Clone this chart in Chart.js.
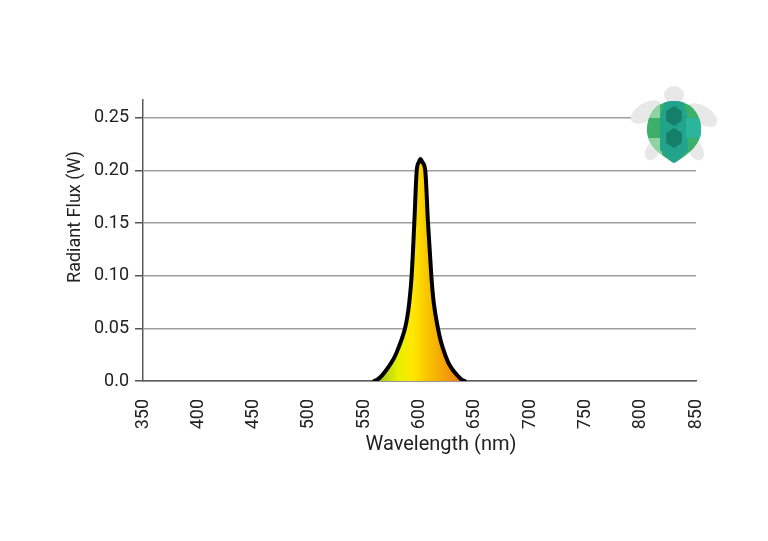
<!DOCTYPE html>
<html>
<head>
<meta charset="utf-8">
<script src="https://cdn.jsdelivr.net/npm/chart.js@4/dist/chart.umd.min.js"></script>
<style>
  html, body { margin: 0; padding: 0; background: #fff; }
  #wrap { width: 768px; height: 541px; }
</style>
</head>
<body>
<div id="wrap"><canvas id="chart"></canvas></div>
<script>
// spectrum (nm, W)
var wavelengths = [559, 562, 565, 569, 574.9, 578, 580.8, 584, 586.9, 589, 590.8, 592.9, 595.3, 597.5, 599.4, 600.9,
                   602.5, 605.2, 607.7, 610.7, 612.8, 616.7, 619, 621.2, 625.8, 628.5, 631.2, 634.5, 637.8, 641];
var flux = [0.000, 0.0015, 0.004, 0.009, 0.018, 0.024, 0.031, 0.040, 0.050, 0.061, 0.075, 0.100, 0.150, 0.200, 0.208, 0.211,
            0.208, 0.200, 0.150, 0.100, 0.075, 0.050, 0.039, 0.031, 0.018, 0.013, 0.009, 0.005, 0.0015, 0.000];
var yTicks = [0, 0.05, 0.10, 0.15, 0.20, 0.25];
var xTicks = [350, 400, 450, 500, 550, 600, 650, 700, 750, 800, 850];
var xTitle = 'Wavelength (nm)';
var yTitle = 'Radiant Flux (W)';

var points = wavelengths.map(function (w, i) { return { x: w, y: flux[i] }; });

function spectrumFill(context) {
    var chart = context.chart;
    if (!chart.chartArea) { return '#ffe000'; }
    var xs = chart.scales.x;
    var g = chart.ctx.createLinearGradient(xs.getPixelForValue(562), 0, xs.getPixelForValue(638), 0);
    g.addColorStop(0.0, '#9cc820');
    g.addColorStop(0.25, '#e8f000');
    g.addColorStop(0.42, '#ffe800');
    g.addColorStop(0.6, '#f8c400');
    g.addColorStop(1.0, '#f07c10');
    return g;
}

// axis titles sit a bit off-centre in the original, so they are placed by hand
var axisTitles = {
    id: 'axisTitles',
    afterDraw: function (chart) {
        var c = chart.ctx;
        c.save();
        c.fillStyle = '#222';
        c.textAlign = 'center';
        c.textBaseline = 'middle';
        c.font = '20px Roboto';
        c.fillText(xTitle, 441, 445);
        c.translate(75, 217);
        c.rotate(-Math.PI / 2);
        c.font = '18px Roboto';
        c.fillText(yTitle, 0, 0);
        c.restore();
    }
};

// little turtle logo, top right
var turtleLogo = {
    id: 'turtleLogo',
    afterDraw: function (chart) {
        var c = chart.ctx;
        var cx = 674;
        c.save();
        c.fillStyle = '#e8e8e8';
        // head
        c.beginPath(); c.ellipse(cx, 95, 10, 9, 0, 0, Math.PI * 2); c.fill();
        // flippers
        c.beginPath(); c.ellipse(cx - 28, 112, 17, 9, -0.55, 0, Math.PI * 2); c.fill();
        c.beginPath(); c.ellipse(cx + 28, 115, 17, 9, 0.55, 0, Math.PI * 2); c.fill();
        c.beginPath(); c.ellipse(cx - 21, 150, 7, 11, 0.5, 0, Math.PI * 2); c.fill();
        c.beginPath(); c.ellipse(cx + 22, 150, 7, 11, -0.5, 0, Math.PI * 2); c.fill();
        // shell outline
        c.beginPath();
        c.moveTo(cx, 101);
        c.bezierCurveTo(cx + 20, 101, cx + 28, 118, cx + 27, 132);
        c.bezierCurveTo(cx + 26, 146, cx + 12, 156, cx, 163);
        c.bezierCurveTo(cx - 12, 156, cx - 26, 146, cx - 27, 132);
        c.bezierCurveTo(cx - 28, 118, cx - 20, 101, cx, 101);
        c.closePath();
        c.fillStyle = '#3caf68';
        c.fill();
        c.clip();
        // light patches
        c.fillStyle = '#8fd3a0';
        c.fillRect(cx - 30, 100, 16, 18);
        c.fillRect(cx - 30, 138, 18, 30);
        // teal column
        c.fillStyle = '#22a48c';
        c.beginPath();
        c.moveTo(cx - 9, 100); c.lineTo(cx + 9, 100); c.lineTo(cx + 14, 118);
        c.lineTo(cx + 14, 150); c.lineTo(cx, 165); c.lineTo(cx - 14, 150);
        c.lineTo(cx - 14, 118); c.closePath(); c.fill();
        c.fillStyle = '#2bb59a';
        c.fillRect(cx + 12, 118, 18, 20);
        // dark hexes
        c.fillStyle = '#157f6a';
        [[cx, 116], [cx, 138]].forEach(function (p) {
            c.beginPath();
            for (var k = 0; k < 6; k++) {
                var a = Math.PI / 6 + k * Math.PI / 3;
                var px = p[0] + 9 * Math.cos(a), py = p[1] + 10 * Math.sin(a);
                if (k === 0) { c.moveTo(px, py); } else { c.lineTo(px, py); }
            }
            c.closePath(); c.fill();
        });
        c.restore();
    }
};

new Chart(document.getElementById('chart'), {
    type: 'line',
    data: {
        datasets: [{
            data: points,
            borderColor: '#000',
            borderWidth: 4,
            borderJoinStyle: 'round',
            borderCapStyle: 'round',
            backgroundColor: spectrumFill,
            fill: 'origin',
            cubicInterpolationMode: 'monotone',
            pointRadius: 0
        }]
    },
    options: {
        responsive: true,
        maintainAspectRatio: false,
        animation: false,
        layout: { padding: { left: 0, right: 72, top: 100, bottom: 100 } },
        plugins: { legend: { display: false }, tooltip: { enabled: false } },
        scales: {
            x: {
                type: 'linear',
                min: 350,
                max: 850,
                afterBuildTicks: function (s) { s.ticks = xTicks.map(function (v) { return { value: v }; }); },
                afterFit: function (s) { s.height = 60; },
                grid: { display: false },
                border: { display: true, color: '#5a5a5a', width: 1.5 },
                ticks: {
                    minRotation: 90, maxRotation: 90, padding: 10,
                    color: '#222', font: { family: 'Roboto', size: 18 }
                }
            },
            y: {
                min: 0,
                max: 0.267,
                afterBuildTicks: function (s) { s.ticks = yTicks.map(function (v) { return { value: v }; }); },
                afterFit: function (s) { s.width = 143; },
                grid: { color: '#a39e9e', lineWidth: 1.5, tickColor: '#555', tickLength: 8 },
                border: { display: true, color: '#5a5a5a', width: 1.5 },
                ticks: {
                    padding: 6, color: '#222', font: { family: 'Roboto', size: 18 },
                    callback: function (v) { return v === 0 ? '0.0' : v.toFixed(2); }
                }
            }
        }
    },
    plugins: [axisTitles, turtleLogo]
});
</script>
</body>
</html>
